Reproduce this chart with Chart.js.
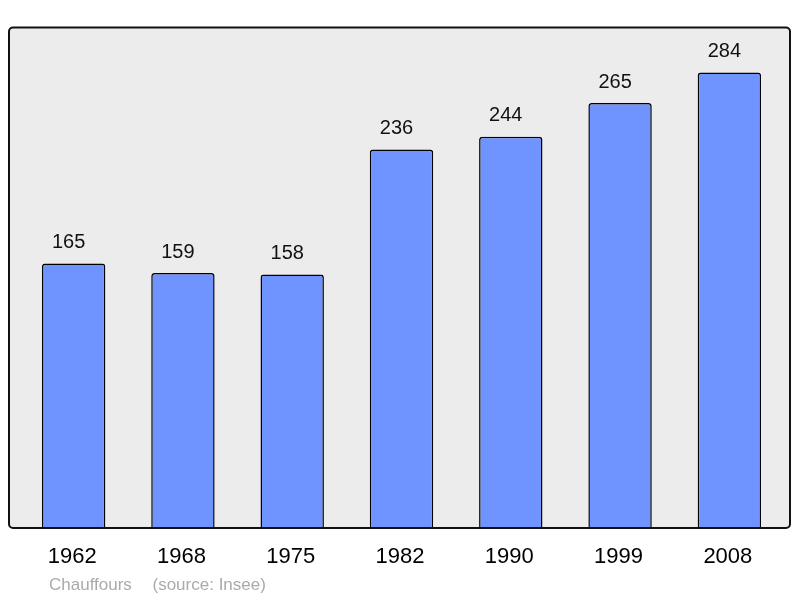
<!DOCTYPE html>
<html>
<head>
<meta charset="utf-8">
<script src="https://cdn.jsdelivr.net/npm/chart.js@4/dist/chart.umd.min.js"></script>
<style>
  html, body { margin: 0; padding: 0; background: #fff; }
  #wrap { width: 800px; height: 598px; }
</style>
</head>
<body>
<div id="wrap"><canvas id="c" width="800" height="598"></canvas></div>
<script>
const years = ["1962", "1968", "1975", "1982", "1990", "1999", "2008"];
const population = [165, 159, 158, 236, 244, 265, 284];
const commune = "Chauffours";
const source = "(source: Insee)";

const framePlugin = {
  id: 'frame',
  beforeDraw(chart) {
    const ctx = chart.ctx, a = chart.chartArea;
    const l = a.left - 10, t = a.top + 0.5, r = a.right + 6, b = a.bottom;
    ctx.save();
    ctx.beginPath();
    ctx.roundRect(l, t, r - l, b - t, 4);
    ctx.fillStyle = '#ececec';
    ctx.fill();
    ctx.restore();
  },
  afterDatasetsDraw(chart) {
    const ctx = chart.ctx, a = chart.chartArea;
    const l = a.left - 10, t = a.top + 0.5, r = a.right + 6, b = a.bottom;
    ctx.save();
    ctx.beginPath();
    ctx.roundRect(l, t, r - l, b - t, 4);
    ctx.lineWidth = 2;
    ctx.strokeStyle = '#111';
    ctx.stroke();

    const meta = chart.getDatasetMeta(0);
    const xs = chart.scales.x;
    ctx.fillStyle = '#111';
    ctx.textAlign = 'center';
    ctx.textBaseline = 'middle';
    ctx.font = '20px "Liberation Sans", Arial, sans-serif';
    meta.data.forEach((bar, i) => {
      ctx.fillText(String(population[i]), bar.x - 5, bar.y - 21);
    });
    ctx.font = '22px "Liberation Sans", Arial, sans-serif';
    ctx.fillStyle = '#000';
    years.forEach((y, i) => {
      ctx.fillText(y, xs.getPixelForValue(i) - 1.5, a.bottom + 29);
    });
    ctx.textAlign = 'left';
    ctx.fillStyle = '#aaaaaa';
    ctx.font = '17px "Liberation Sans", Arial, sans-serif';
    ctx.fillText(commune, l + 40, a.bottom + 57);
    ctx.fillText(source, l + 143.5, a.bottom + 57);
    ctx.restore();
  }
};

new Chart(document.getElementById('c'), {
  type: 'bar',
  data: {
    labels: years,
    datasets: [{
      data: population,
      backgroundColor: '#7094ff',
      borderColor: '#000',
      borderWidth: 1.5,
      borderRadius: { topLeft: 3, topRight: 3, bottomLeft: 0, bottomRight: 0 },
      borderSkipped: 'bottom',
      categoryPercentage: 1,
      barPercentage: 0.58
    }]
  },
  options: {
    responsive: false,
    animation: false,
    devicePixelRatio: 1,
    layout: { padding: { left: 19, right: 16, top: 27, bottom: 70 } },
    plugins: { legend: { display: false }, tooltip: { enabled: false } },
    scales: {
      x: { display: false, offset: true },
      y: { display: false, min: 0, max: Math.max(...population) * 1.1 }
    }
  },
  plugins: [framePlugin]
});
</script>
</body>
</html>
